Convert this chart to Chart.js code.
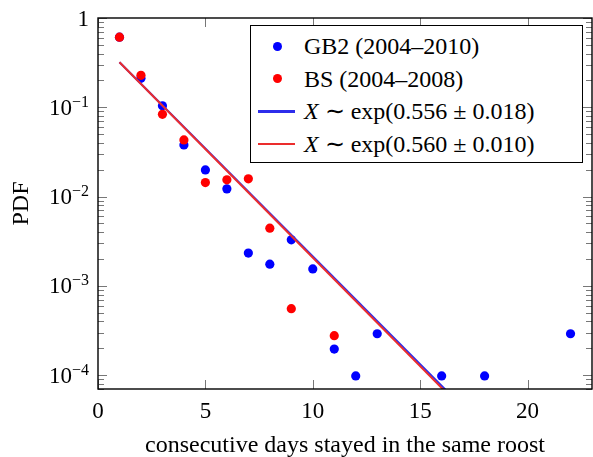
<!DOCTYPE html>
<html>
<head>
<meta charset="utf-8">
<script src="https://cdn.jsdelivr.net/npm/chart.js@4"></script>
<style>
  body { margin: 0; background: #fff; }
  #cadre { position: relative; width: 593px; height: 457px; }
  #legende { position: absolute; left: 250px; top: 25px; width: 331px; height: 136px; border: 1.5px solid #000; background: #fff; font-family: 'Liberation Serif', serif; font-size: 24px; color: #000; }
  .ligne { position: absolute; left: 0; height: 30px; width: 100%; }
  .ligne .txt { position: absolute; left: 53px; top: 0; line-height: 30px; white-space: nowrap; }
  .ligne .pt { position: absolute; left: 22px; top: 10.5px; width: 9px; height: 9px; border-radius: 50%; }
  .ligne .tr { position: absolute; left: 7px; top: 14px; width: 37px; height: 2.5px; }
</style>
</head>
<body>
<div id="cadre">
  <canvas id="graphique" width="593" height="457"></canvas>
  <div id="legende"></div>
</div>
<script>
// Données
const joursGB = [1, 2, 3, 4, 5, 6, 7, 8, 9, 10, 11, 12, 13, 16, 18, 22];
const pdfGB = [0.61, 0.211, 0.104, 0.0379, 0.0199, 0.0122, 0.00233, 0.00175, 0.00328, 0.00155, 0.000196, 0.000098, 0.000291, 0.000098, 0.000098, 0.000291];
const joursBS = [1, 2, 3, 4, 5, 6, 7, 8, 9, 11];
const pdfBS = [0.61, 0.228, 0.0835, 0.0431, 0.01435, 0.0154, 0.0158, 0.00443, 0.000555, 0.000277];
const joursFit = [1, 22];
const fitGB = [0.319, 0.0000027];
const fitBS = [0.320, 0.0000025];
const libelles = ["GB2 (2004\u20132010)", "BS (2004\u20132008)", "exp(0.556 \u00b1 0.018)", "exp(0.560 \u00b1 0.010)"];
const ticksX = [0, 5, 10, 15, 20];
const ticksY = [1, 1e-1, 1e-2, 1e-3, 1e-4];
const exposantsY = ["", "\u22121", "\u22122", "\u22123", "\u22124"];

const BLEU = '#0000ff', ROUGE = '#ff0000';
const BLEU_L = 'rgb(45,45,235)', ROUGE_L = 'rgb(235,45,45)';
const POLICE = "'Liberation Serif', serif";

function points(xs, ys) {
    let res = [];
    for (let i = 0; i < xs.length; i++) res.push({ x: xs[i], y: ys[i] });
    return res;
}

// Cadre, graduations et étiquettes de l'axe Y
const cadrePlugin = {
    id: 'cadre',
    afterDatasetsDraw(chart) {
        let ctx = chart.ctx, a = chart.chartArea;
        let sx = chart.scales.x, sy = chart.scales.y;
        ctx.save();
        ctx.strokeStyle = '#777';
        ctx.lineWidth = 1;
        ctx.beginPath();
        ticksX.forEach(function (v) {
            let px = Math.round(sx.getPixelForValue(v)) + 0.5;
            ctx.moveTo(px, a.bottom); ctx.lineTo(px, a.bottom - 9);
            ctx.moveTo(px, a.top); ctx.lineTo(px, a.top + 9);
        });
        for (let d = 0; d >= -5; d--) {
            for (let k = 1; k <= 9; k++) {
                let v = k * Math.pow(10, d);
                if (v > 1 || v < sy.min) continue;
                let py = Math.round(sy.getPixelForValue(v)) + 0.5;
                let lg = (k === 1) ? 9 : 6;
                ctx.moveTo(a.left, py); ctx.lineTo(a.left + lg, py);
                ctx.moveTo(a.right, py); ctx.lineTo(a.right - lg, py);
            }
        }
        ctx.stroke();

        ctx.strokeStyle = '#000';
        ctx.lineWidth = 1.4;
        ctx.strokeRect(a.left, a.top, a.right - a.left, a.bottom - a.top);

        // étiquettes 10^n
        ctx.fillStyle = '#000';
        ctx.textBaseline = 'alphabetic';
        ticksY.forEach(function (v, i) {
            let py = sy.getPixelForValue(v);
            let xd = a.left - 9;
            if (exposantsY[i] === "") {
                ctx.font = '23px ' + POLICE;
                ctx.textAlign = 'right';
                ctx.fillText("1", xd, py + 7.5);
            } else {
                ctx.font = '16px ' + POLICE;
                ctx.textAlign = 'right';
                let we = ctx.measureText(exposantsY[i]).width;
                ctx.fillText(exposantsY[i], xd, py - 0.5);
                ctx.font = '23px ' + POLICE;
                ctx.fillText("10", xd - we, py + 7.5);
            }
        });
        ctx.restore();
    }
};

let graphique = new Chart(document.getElementById('graphique'), {
    type: 'scatter',
    data: {
        datasets: [
            { label: libelles[0], data: points(joursGB, pdfGB), backgroundColor: BLEU, borderWidth: 0, pointRadius: 4.6, order: 3 },
            { label: libelles[1], data: points(joursBS, pdfBS), backgroundColor: ROUGE, borderWidth: 0, pointRadius: 4.6, order: 2 },
            { label: libelles[2], data: points(joursFit, fitGB), showLine: true, borderColor: BLEU_L, borderWidth: 2, pointRadius: 0, order: 1 },
            { label: libelles[3], data: points(joursFit, fitBS), showLine: true, borderColor: ROUGE_L, borderWidth: 2, pointRadius: 0, order: 0 }
        ]
    },
    options: {
        responsive: false,
        animation: false,
        layout: { autoPadding: false, padding: { top: 18, right: 1, left: 0, bottom: 0 } },
        plugins: { legend: { display: false }, tooltip: { enabled: false } },
        scales: {
            x: {
                type: 'linear', min: 0, max: 23,
                grid: { display: false }, border: { display: false },
                afterBuildTicks: function (s) { s.ticks = ticksX.map(function (v) { return { value: v }; }); },
                afterFit: function (s) { s.height = 68; s.paddingLeft = 0; s.paddingRight = 0; },
                ticks: { color: '#000', padding: 1, font: { family: POLICE, size: 23 } },
                title: { display: true, text: 'consecutive days stayed in the same roost', color: '#000', padding: { top: 0, bottom: -1 }, font: { family: POLICE, size: 24, lineHeight: 1 } }
            },
            y: {
                type: 'logarithmic', min: 7e-5, max: 1,
                grid: { display: false }, border: { display: false },
                ticks: { display: false },
                afterFit: function (s) { s.width = 98; s.paddingTop = 0; s.paddingBottom = 0; },
                title: { display: true, text: 'PDF', color: '#000', padding: { top: 7, bottom: 0 }, font: { family: POLICE, size: 24 } }
            }
        }
    },
    plugins: [cadrePlugin]
});

// Légende
let legende = document.getElementById('legende');
let couleurs = [BLEU, ROUGE, BLEU_L, ROUGE_L];
for (let i = 0; i < 4; i++) {
    let ligne = document.createElement('div');
    ligne.className = 'ligne';
    ligne.style.top = (5 + i * 32.6) + 'px';
    let marque = document.createElement('div');
    marque.className = i < 2 ? 'pt' : 'tr';
    marque.style.background = couleurs[i];
    let txt = document.createElement('div');
    txt.className = 'txt';
    if (i < 2) txt.textContent = libelles[i];
    else txt.innerHTML = '<i>X</i> \u223c ' + libelles[i];
    ligne.appendChild(marque);
    ligne.appendChild(txt);
    legende.appendChild(ligne);
}
</script>
</body>
</html>
